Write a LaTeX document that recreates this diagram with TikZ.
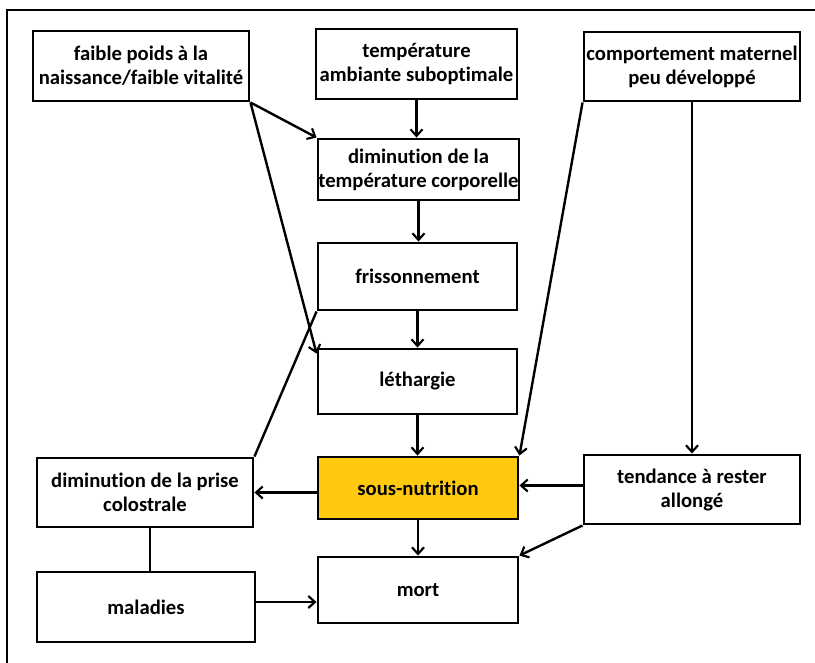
\documentclass[tikz,border=0pt]{standalone}
\usepackage{fontspec}
\setmainfont{Carlito}[Ligatures=NoCommon]
\usetikzlibrary{arrows.meta,calc}
\definecolor{gold}{HTML}{FFC90E}
\begin{document}
\begin{tikzpicture}[x=0.75pt,y=-0.75pt,
  box/.style={draw=black,line width=2.2pt,rectangle,inner sep=0pt,align=center,
    font=\fontsize{15.5}{18}\selectfont\bfseries,text=black},
  arr/.style={line width=1.8pt,-{Straight Barb[length=5pt,width=9pt,line width=1.6pt]}},
  ln/.style={line width=1.8pt}]
\useasboundingbox (0,0) rectangle (815,663);
\begin{scope}
\clip (0,0) rectangle (815,663);
\draw[line width=2.2pt] (7,680) -- (7,10) -- (830,10);
\end{scope}
\node[box,minimum width=162pt,minimum height=52.5pt] (A) at (141,66) {faible poids à la\\naissance/faible vitalité};
\node[box,minimum width=150.75pt,minimum height=52.5pt] (B) at (416.5,64) {température\\ambiante suboptimale};
\node[box,minimum width=162pt,minimum height=51.75pt] (C) at (692,66.5) {comportement maternel\\peu développé};
\node[box,minimum width=150.75pt,minimum height=45.75pt] (D) at (418.5,169.5) {diminution de la\\température corporelle};
\node[box,minimum width=149.25pt,minimum height=50.25pt] (E) at (417.5,276.5) {frissonnement};
\node[box,minimum width=149.25pt,minimum height=48.75pt] (F) at (417.5,381.5) {léthargie};
\node[box,minimum width=162pt,minimum height=51.75pt] (G) at (145,492.5) {diminution de la prise\\colostrale};
\node[box,fill=gold,minimum width=150pt,minimum height=46.5pt] (H) at (418,488) {sous-nutrition};
\node[box,minimum width=162pt,minimum height=51.75pt] (I) at (692,489.5) {tendance à rester\\allongé};
\node[box,minimum width=163.5pt,minimum height=52.5pt] (J) at (146,607) {maladies};
\node[box,minimum width=150pt,minimum height=49.5pt] (K) at (418,590) {mort};
% vertical chain
\draw[arr] (B.south) -- (B.south |- D.north);
\draw[arr] (D.south) -- (D.south |- E.north);
\draw[arr] (E.south) -- (E.south |- F.north);
\draw[arr] (F.south) -- (F.south |- H.north);
\draw[arr] (H.south) -- (H.south |- K.north);
% diagonals
\draw[arr] (A.south east) -- (D.north west);
\coordinate (Fin) at ([yshift=-4.5pt]F.north west);
\draw[arr] (A.south east) -- (Fin);
\draw[ln] (E.south west) -- (G.north east);
\draw[arr] (C.south west) -- (H.north east);
\draw[arr] (C.south) -- (C.south |- I.north);
\draw[arr] (I.south west) -- (K.north east);
% horizontals
\coordinate (Iw) at ([yshift=3pt]I.west);
\draw[arr] (Iw) -- (Iw -| H.east);
\draw[arr] (G.east -| H.west) -- (G.east);
\coordinate (Gs) at ([xshift=3.75pt]G.south);
\draw[ln] (Gs) -- (Gs |- J.north);
\coordinate (Je) at ([yshift=3.75pt]J.east);
\draw[arr] (Je) -- (Je -| K.west);
\end{tikzpicture}
\end{document}
